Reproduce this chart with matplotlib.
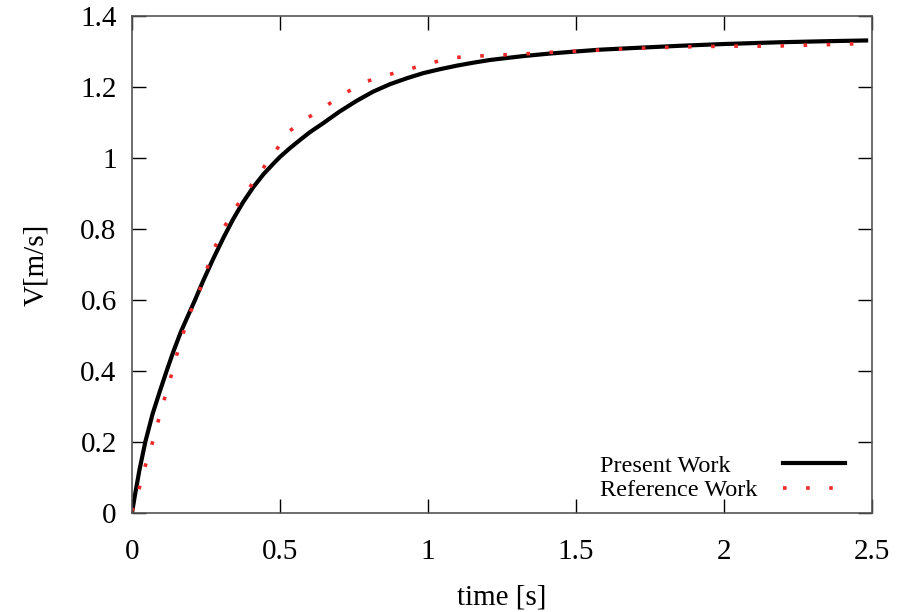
import matplotlib
matplotlib.use('Agg')
import matplotlib.pyplot as plt

# Present Work
t_present = [0, 0.01, 0.025, 0.045, 0.07, 0.095, 0.117, 0.14, 0.165, 0.19, 0.213, 0.24,
             0.275, 0.31, 0.342, 0.375, 0.41, 0.445, 0.48, 0.5, 0.534, 0.568, 0.6, 0.646,
             0.7, 0.759, 0.815, 0.872, 0.93, 0.984, 1.04, 1.097, 1.15, 1.209, 1.27, 1.322,
             1.41, 1.5, 1.58, 1.7, 1.85, 2.0, 2.19, 2.35, 2.48]
v_present = [0, 0.05, 0.12, 0.20, 0.28, 0.345, 0.40, 0.455, 0.51, 0.557, 0.60, 0.653,
             0.717, 0.777, 0.828, 0.875, 0.918, 0.955, 0.986, 1.003, 1.028, 1.051, 1.072, 1.098,
             1.130, 1.161, 1.187, 1.208, 1.225, 1.239, 1.250, 1.260, 1.268, 1.276, 1.282, 1.287,
             1.294, 1.300, 1.305, 1.310, 1.316, 1.321, 1.326, 1.329, 1.331]

# Reference Work
t_ref = [0, 0.024, 0.044, 0.067, 0.087, 0.108, 0.13, 0.15, 0.172, 0.197, 0.23, 0.252,
         0.278, 0.312, 0.351, 0.396, 0.44, 0.485, 0.534, 0.592, 0.658, 0.723, 0.79, 0.864,
         0.939, 1.015, 1.09, 1.168, 1.245, 1.322, 1.4, 1.478, 1.556, 1.634, 1.71, 1.79,
         1.867, 1.945, 2.02, 2.1, 2.18, 2.226, 2.304, 2.38, 2.46]
v_ref = [0.005, 0.068, 0.13, 0.192, 0.254, 0.317, 0.379, 0.442, 0.504, 0.565, 0.63, 0.685,
         0.745, 0.806, 0.861, 0.915, 0.968, 1.02, 1.077, 1.112, 1.148, 1.184, 1.215, 1.234,
         1.251, 1.269, 1.283, 1.287, 1.290, 1.293, 1.297, 1.300, 1.303, 1.306, 1.309, 1.311,
         1.313, 1.314, 1.315, 1.315, 1.315, 1.317, 1.318, 1.320, 1.322]

x_ticks = [0, 0.5, 1, 1.5, 2, 2.5]
x_ticklabels = ['0', '0.5', '1', '1.5', '2', '2.5']
y_ticks = [0, 0.2, 0.4, 0.6, 0.8, 1.0, 1.2, 1.4]
y_ticklabels = ['0', '0.2', '0.4', '0.6', '0.8', '1', '1.2', '1.4']

plt.rcParams['font.family'] = ['Liberation Serif', 'DejaVu Serif']

fig = plt.figure(figsize=(8.99, 6.12), dpi=100)
ax = fig.add_axes([0.1468, 0.1618, 0.8232, 0.8121])

ax.plot(t_present, v_present, color='black', lw=3.0, solid_joinstyle='round',
        label='Present Work')
ax.plot(t_ref, v_ref, color='#ee2a2a', lw=2.6, linestyle=(0, (1, 5.4)),
        label='Reference Work')

ax.set_xlim(0, 2.5)
ax.set_ylim(0, 1.4)
ax.set_xticks(x_ticks)
ax.set_xticklabels(x_ticklabels)
ax.set_yticks(y_ticks)
ax.set_yticklabels(y_ticklabels)
ax.tick_params(direction='in', length=10, width=1.0, top=True, right=True,
               labelsize=21, color='black')
ax.tick_params(axis='x', pad=19)
ax.tick_params(axis='y', pad=11)
for s in ax.spines.values():
    s.set_color('#555555')
    s.set_linewidth(1.2)

ax.set_xlabel('time [s]', fontsize=21, labelpad=14)
ax.set_ylabel('V[m/s]', fontsize=21, labelpad=22)

leg = ax.legend(loc='lower right', bbox_to_anchor=(0.9635, 0.024), frameon=False,
                markerfirst=False, fontsize=17.5, handlelength=2.55, handletextpad=1.0,
                labelspacing=0.1, borderpad=0, borderaxespad=0)
# gnuplot key: text flush left, samples flush right
for col in leg._legend_handle_box.get_children():
    col.align = 'left'
    for row in col.get_children():
        row.mode = 'expand'
        row.width = 245

fig.savefig('out.png', dpi=100)
